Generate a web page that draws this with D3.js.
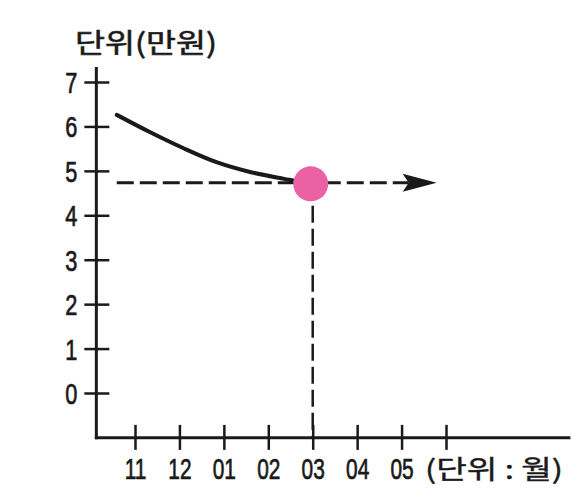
<!DOCTYPE html>
<html>
<head>
<meta charset="utf-8">
<script src="https://cdn.jsdelivr.net/npm/d3@7"></script>
<style>
  body { margin: 0; background: #fff; }
  text { fill: #1a1a1a; }
</style>
</head>
<body>
<svg id="chart" width="572" height="489"></svg>
<script>
// data
var months = ["11", "12", "01", "02", "03", "04", "05", ""];
var yTicks = [0, 1, 2, 3, 4, 5, 6, 7];
var curveX = [-0.41, 0.32, 1.07, 1.85, 2.61, 3.36, 3.68, 4];
var curveY = [6.26, 5.88, 5.52, 5.19, 4.97, 4.82, 4.76, 4.73];
var pointMonth = 4;
var pointValue = 4.73;
var arrowEnd = 6.79;
var yTitle = "단위(만원)";
var xTitle = "(단위 : 월)";

var svg = d3.select("#chart");
var ink = "#1a1a1a";
var numFont = "'Liberation Sans', Arial, sans-serif";
var krFont = "'Noto Sans CJK KR', sans-serif";

var x = d3.scaleLinear().domain([0, 7]).range([135, 446]);
var y = d3.scaleLinear().domain([0, 7]).range([393, 82]);

var x0 = x(-0.87), xEnd = x(9.8);
var yBase = y(-1.01), yTop = y(7.34);

// axis lines
svg.append("line")
    .attr("x1", x0).attr("x2", x0)
    .attr("y1", yTop).attr("y2", yBase + 1.5)
    .attr("stroke", ink).attr("stroke-width", 3);
svg.append("line")
    .attr("x1", x0 - 1.5).attr("x2", xEnd)
    .attr("y1", yBase).attr("y2", yBase)
    .attr("stroke", ink).attr("stroke-width", 3);

// y axis ticks
var gy = svg.append("g")
    .attr("transform", "translate(" + x0 + ",0)")
    .call(d3.axisLeft(y).tickValues(yTicks).tickFormat(d3.format("d"))
        .tickSize(12).tickPadding(0));
gy.select(".domain").remove();
gy.selectAll(".tick line")
    .attr("x1", -12).attr("x2", 13)
    .attr("stroke", ink).attr("stroke-width", 2.5);
gy.selectAll(".tick text")
    .attr("x", -19 / 0.75).attr("dy", "0.36em")
    .attr("transform", "scale(0.75,1)")
    .style("font-family", numFont).style("font-size", "29px")
    .attr("fill", ink).attr("stroke", ink).attr("stroke-width", 0.7);

// x axis ticks
var gx = svg.append("g")
    .attr("transform", "translate(0," + yBase + ")")
    .call(d3.axisBottom(x).tickValues(d3.range(months.length))
        .tickFormat(function (d) { return months[d]; })
        .tickSize(12).tickPadding(0));
gx.select(".domain").remove();
gx.selectAll(".tick line")
    .attr("y1", -13).attr("y2", 12)
    .attr("stroke", ink).attr("stroke-width", 2.5);
gx.selectAll(".tick text")
    .attr("y", 41).attr("dy", 0)
    .attr("transform", "scale(0.72,1)")
    .style("font-family", numFont).style("font-size", "29px")
    .attr("fill", ink).attr("stroke", ink).attr("stroke-width", 0.7);

// titles
svg.append("text")
    .attr("x", 75).attr("y", 53)
    .attr("textLength", 142).attr("lengthAdjust", "spacingAndGlyphs")
    .style("font-family", krFont).style("font-size", "27px")
    .attr("stroke", ink).attr("stroke-width", 0.6)
    .text(yTitle);
svg.append("text")
    .attr("x", 425).attr("y", 479)
    .attr("textLength", 138).attr("lengthAdjust", "spacingAndGlyphs")
    .style("font-family", krFont).style("font-size", "26px")
    .attr("stroke", ink).attr("stroke-width", 0.4)
    .text(xTitle);

// dashed guides
var py = y(pointValue), px = x(pointMonth);
svg.append("line")
    .attr("x1", x(curveX[0])).attr("x2", x(arrowEnd) - 28)
    .attr("y1", py).attr("y2", py)
    .attr("stroke", ink).attr("stroke-width", 3)
    .attr("stroke-dasharray", "17,6");
svg.append("line")
    .attr("x1", px).attr("x2", px)
    .attr("y1", py).attr("y2", yBase)
    .attr("stroke", ink).attr("stroke-width", 2.5)
    .attr("stroke-dasharray", "17,6");

// arrow head
var tip = x(arrowEnd);
svg.append("path")
    .attr("d", "M" + tip + "," + py +
        "L" + (tip - 34) + "," + (py - 9) +
        "L" + (tip - 28) + "," + py +
        "L" + (tip - 34) + "," + (py + 9) + "Z")
    .attr("fill", ink);

// falling curve
var line = d3.line()
    .x(function (d, i) { return x(curveX[i]); })
    .y(function (d) { return y(d); })
    .curve(d3.curveCatmullRom);
svg.append("path")
    .datum(curveY)
    .attr("d", line)
    .attr("fill", "none")
    .attr("stroke", ink)
    .attr("stroke-width", 4)
    .attr("stroke-linecap", "round");

// point
svg.append("circle")
    .attr("cx", px - 2).attr("cy", py + 1)
    .attr("r", 17.5)
    .attr("fill", "#ea62a4");
</script>
</body>
</html>
